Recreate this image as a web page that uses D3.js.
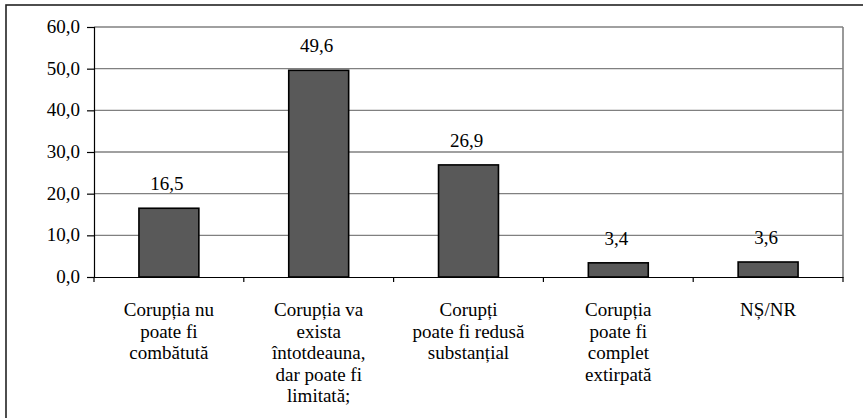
<!DOCTYPE html>
<html>
<head>
<meta charset="utf-8">
<script src="https://cdn.jsdelivr.net/npm/d3@7"></script>
</head>
<body style="margin:0">
<script>
// Dữ liệu: các nhóm câu trả lời (mỗi nhãn đã tách dòng như trong hình)
let categories = [
    ["Corupția nu", "poate fi", "combătută"],
    ["Corupția va", "exista", "întotdeauna,", "dar poate fi", "limitată;"],
    ["Corupți", "poate fi redusă", "substanțial"],
    ["Corupția", "poate fi", "complet", "extirpată"],
    ["NȘ/NR"]
];
let values = [16.5, 49.6, 26.9, 3.4, 3.6];
let yTicks = [0, 10, 20, 30, 40, 50, 60];

let fontStyle = d => `font-family: "Liberation Serif"; font-size: 19px; fill: #000`;

let margin = { top: 27, left: 94 };
let width = 843 - margin.left;
let height = 277 - margin.top;

let svg = d3.select("body")
    .append("svg")
    .attr("width", 863)
    .attr("height", 418);

// Khung ngoài
svg.append("rect")
    .attr("x", 6)
    .attr("y", 5)
    .attr("width", 870)
    .attr("height", 430)
    .attr("fill", "none")
    .attr("stroke", "#222")
    .attr("stroke-width", 1.6);

let chartGroup = svg.append("g")
    .attr("transform", `translate(${margin.left},${margin.top})`);

let keys = categories.map((d, i) => i);

let x = d3.scaleBand()
    .domain(keys)
    .range([0, width])
    .paddingInner(0.6)
    .paddingOuter(0.3);

let y = d3.scaleLinear()
    .domain([0, 60])
    .range([height, 0]);

let fmt = d => d3.format(".1f")(d).replace(".", ",");

// Đường lưới
chartGroup.append("g")
    .selectAll("line")
    .data(yTicks.filter(d => d > 0))
    .enter()
    .append("line")
    .attr("x1", 0)
    .attr("x2", width)
    .attr("y1", d => y(d))
    .attr("y2", d => y(d))
    .style("stroke", "#808080")
    .style("stroke-width", 1.3);

// Viền phải vùng vẽ
chartGroup.append("line")
    .attr("x1", width)
    .attr("x2", width)
    .attr("y1", 0)
    .attr("y2", height)
    .style("stroke", "#808080")
    .style("stroke-width", 1.6);

// Trục Y (vẽ đường và vạch, nhãn tự thêm)
let yAxis = chartGroup.append("g")
    .call(d3.axisLeft(y).tickValues(yTicks).tickFormat("").tickSize(7));
yAxis.selectAll("line, path").style("stroke", "#000").style("stroke-width", 1.2);

chartGroup.append("g")
    .selectAll("text")
    .data(yTicks)
    .enter()
    .append("text")
    .attr("x", -14)
    .attr("y", d => y(d))
    .attr("dy", "0.32em")
    .attr("text-anchor", "end")
    .attr("style", fontStyle)
    .text(d => fmt(d));

// Trục X
let xAxis = chartGroup.append("g")
    .attr("transform", `translate(0,${height})`)
    .call(d3.axisBottom(x).tickSize(0).tickFormat(""));
xAxis.selectAll("path").style("stroke", "#000").style("stroke-width", 1.2);

// Vạch chia giữa các nhóm
let step = x.step();
chartGroup.append("g")
    .selectAll("line")
    .data(d3.range(keys.length + 1))
    .enter()
    .append("line")
    .attr("x1", i => i * step)
    .attr("x2", i => i * step)
    .attr("y1", height)
    .attr("y2", height + 5)
    .style("stroke", "#000")
    .style("stroke-width", 1.2);

// Các cột
chartGroup.selectAll(".bar")
    .data(values)
    .enter()
    .append("rect")
    .attr("class", "bar")
    .attr("x", (d, i) => x(i))
    .attr("y", d => y(d))
    .attr("width", x.bandwidth())
    .attr("height", d => height - y(d))
    .attr("fill", "#595959")
    .attr("stroke", "#000")
    .attr("stroke-width", 1.6);

// Nhãn giá trị
chartGroup.selectAll(".label")
    .data(values)
    .enter()
    .append("text")
    .attr("class", "label")
    .attr("x", (d, i) => x(i) + x.bandwidth() / 2 - 2)
    .attr("y", d => y(d) - 18)
    .attr("text-anchor", "middle")
    .attr("style", fontStyle)
    .text(d => fmt(d));

// Nhãn danh mục
let catLabels = chartGroup.selectAll(".cat")
    .data(categories)
    .enter()
    .append("text")
    .attr("class", "cat")
    .attr("text-anchor", "middle")
    .attr("transform", (d, i) => `translate(${x(i) + x.bandwidth() / 2},${height + 39})`)
    .attr("style", fontStyle);

catLabels.selectAll("tspan")
    .data(d => d)
    .enter()
    .append("tspan")
    .attr("x", 0)
    .attr("y", (d, i) => i * 21.6)
    .text(d => d);
</script>
</body>
</html>
